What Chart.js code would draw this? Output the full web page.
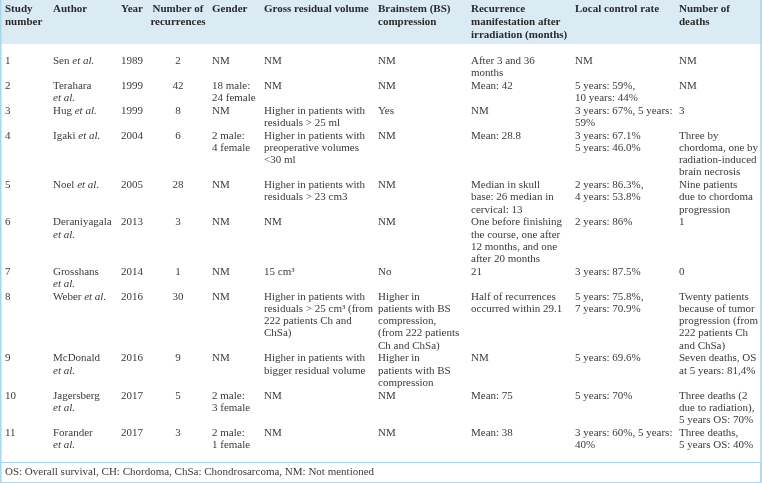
<!DOCTYPE html>
<html>
<head>
<meta charset="utf-8">
<script src="https://cdn.jsdelivr.net/npm/chart.js@4.4.1/dist/chart.umd.min.js"></script>
<style>
  html, body { margin: 0; padding: 0; background: #fff; }
  #wrap { width: 762px; height: 483px; }
</style>
</head>
<body>
<div id="wrap"><canvas id="table"></canvas></div>
<script>
// table content, one array per column
const headers = ['Study\nnumber', 'Author', 'Year', 'Number of\nrecurrences', 'Gender',
  'Gross residual volume', 'Brainstem (BS)\ncompression',
  'Recurrence\nmanifestation after\nirradiation (months)', 'Local control rate', 'Number of\ndeaths'];

const studyNo = ['1', '2', '3', '4', '5', '6', '7', '8', '9', '10', '11'];

const authors = ['Sen et al.', 'Terahara\net al.', 'Hug et al.', 'Igaki et al.', 'Noel et al.',
  'Deraniyagala\net al.', 'Grosshans\net al.', 'Weber et al.', 'McDonald\net al.',
  'Jagersberg\net al.', 'Forander\net al.'];

const years = ['1989', '1999', '1999', '2004', '2005', '2013', '2014', '2016', '2016', '2017', '2017'];

const recurrences = ['2', '42', '8', '6', '28', '3', '1', '30', '9', '5', '3'];

const gender = ['NM', '18 male:\n24 female', 'NM', '2 male:\n4 female', 'NM', 'NM', 'NM', 'NM', 'NM',
  '2 male:\n3 female', '2 male:\n1 female'];

const residualVolume = ['NM', 'NM', 'Higher in patients with\nresiduals > 25 ml',
  'Higher in patients with\npreoperative volumes\n<30 ml', 'Higher in patients with\nresiduals > 23 cm3',
  'NM', '15 cm\u00b3', 'Higher in patients with\nresiduals > 25 cm\u00b3 (from\n222 patients Ch and\nChSa)',
  'Higher in patients with\nbigger residual volume', 'NM', 'NM'];

const bsCompression = ['NM', 'NM', 'Yes', 'NM', 'NM', 'NM', 'No',
  'Higher in\npatients with BS\ncompression,\n(from 222 patients\nCh and ChSa)',
  'Higher in\npatients with BS\ncompression', 'NM', 'NM'];

const recurrenceTime = ['After 3 and 36\nmonths', 'Mean: 42', 'NM', 'Mean: 28.8',
  'Median in skull\nbase: 26 median in\ncervical: 13',
  'One before finishing\nthe course, one after\n12 months, and one\nafter 20 months', '21',
  'Half of recurrences\noccurred within 29.1', 'NM', 'Mean: 75', 'Mean: 38'];

const localControl = ['NM', '5 years: 59%,\n10 years: 44%', '3 years: 67%, 5 years:\n59%',
  '3 years: 67.1%\n5 years: 46.0%', '2 years: 86.3%,\n4 years: 53.8%', '2 years: 86%',
  '3 years: 87.5%', '5 years: 75.8%,\n7 years: 70.9%', '5 years: 69.6%', '5 years: 70%',
  '3 years: 60%, 5 years:\n40%'];

const deaths = ['NM', 'NM', '3', 'Three by\nchordoma, one by\nradiation-induced\nbrain necrosis',
  'Nine patients\ndue to chordoma\nprogression', '1', '0',
  'Twenty patients\nbecause of tumor\nprogression (from\n222 patients Ch\nand ChSa)',
  'Seven deaths, OS\nat 5 years: 81,4%', 'Three deaths (2\ndue to radiation),\n5 years OS: 70%',
  'Three deaths,\n5 years OS: 40%'];

const footnote = 'OS: Overall survival, CH: Chordoma, ChSa: Chondrosarcoma, NM: Not mentioned';

const columns = [studyNo, authors, years, recurrences, gender, residualVolume,
  bsCompression, recurrenceTime, localControl, deaths];

// layout
const W = 762, H = 483;
const COL_X = [5, 53, 121, 178, 212, 264, 378, 471, 575, 679];
const CENTERED = [false, false, false, true, false, false, false, false, false, false];
const HEAD_LINE = 12.6, HEAD_FIRST = 9.5, HEAD_BOTTOM = 44;
const LINE = 12.2, ROW_PAD = 0.6, BODY_FIRST = 61;
const FOOT_TOP = 462, FOOT_BOTTOM = 482;
const FONT = '11px "Liberation Serif", serif';
const FONT_BOLD = 'bold 11px "Liberation Serif", serif';
const FONT_ITALIC = 'italic 11px "Liberation Serif", serif';

const lineCount = s => s.split('\n').length;
const rowLines = studyNo.map((_, r) => Math.max(...columns.map(col => lineCount(col[r]))));

const rowFirst = [];
let yy = BODY_FIRST;
rowLines.forEach(n => { rowFirst.push(yy); yy += n * LINE + ROW_PAD; });

const headerCells = headers.map((t, c) => ({ x: COL_X[c], y: HEAD_FIRST, text: t, head: true, center: CENTERED[c] }));
const bodyCells = [];
columns.forEach((col, c) => col.forEach((t, r) => {
  bodyCells.push({ x: COL_X[c], y: rowFirst[r], text: t, head: false, center: CENTERED[c] });
}));
const footCells = [{ x: 5, y: (FOOT_TOP + FOOT_BOTTOM) / 2, text: footnote, head: false, center: false }];

function drawRich(ctx, text, x, y, center) {
  const parts = text.split(/(et al\.)/).filter(p => p.length);
  let total = 0;
  parts.forEach(p => { ctx.font = p === 'et al.' ? FONT_ITALIC : FONT; total += ctx.measureText(p).width; });
  let cx = center ? x - total / 2 : x;
  parts.forEach(p => {
    ctx.font = p === 'et al.' ? FONT_ITALIC : FONT;
    ctx.fillText(p, cx, y);
    cx += ctx.measureText(p).width;
  });
}

const tablePlugin = {
  id: 'tablePlugin',
  beforeDatasetsDraw(chart) {
    const { ctx, scales: { x, y } } = chart;
    ctx.save();
    ctx.fillStyle = '#dbebf4';
    ctx.fillRect(x.getPixelForValue(0), y.getPixelForValue(0), x.getPixelForValue(W) - x.getPixelForValue(0),
      y.getPixelForValue(HEAD_BOTTOM) - y.getPixelForValue(0));
    ctx.strokeStyle = '#a9d6e8';
    ctx.lineWidth = 1.5;
    ctx.beginPath();
    ctx.moveTo(x.getPixelForValue(0.75), y.getPixelForValue(0));
    ctx.lineTo(x.getPixelForValue(0.75), y.getPixelForValue(FOOT_BOTTOM));
    ctx.moveTo(x.getPixelForValue(W - 1), y.getPixelForValue(0));
    ctx.lineTo(x.getPixelForValue(W - 1), y.getPixelForValue(FOOT_BOTTOM));
    ctx.stroke();
    ctx.lineWidth = 1;
    ctx.strokeRect(x.getPixelForValue(0.5), y.getPixelForValue(FOOT_TOP) + 0.5,
      x.getPixelForValue(W - 1) - x.getPixelForValue(0.5), y.getPixelForValue(FOOT_BOTTOM) - y.getPixelForValue(FOOT_TOP));
    ctx.restore();
  },
  afterDatasetsDraw(chart) {
    const { ctx } = chart;
    ctx.save();
    ctx.textBaseline = 'middle';
    chart.data.datasets.forEach((ds, i) => {
      const meta = chart.getDatasetMeta(i);
      meta.data.forEach((el, j) => {
        const cell = ds.data[j];
        const lh = cell.head ? HEAD_LINE : LINE;
        cell.text.split('\n').forEach((line, k) => {
          const ly = el.y + k * lh;
          if (cell.head) {
            ctx.font = FONT_BOLD;
            ctx.fillStyle = '#2a2a2a';
            ctx.textAlign = cell.center ? 'center' : 'left';
            ctx.fillText(line, el.x, ly);
          } else {
            ctx.fillStyle = '#3a3a3a';
            ctx.textAlign = 'left';
            drawRich(ctx, line, el.x, ly, cell.center);
          }
        });
      });
    });
    ctx.restore();
  }
};

new Chart(document.getElementById('table'), {
  type: 'scatter',
  data: {
    datasets: [
      { label: 'header', data: headerCells, pointRadius: 0 },
      { label: 'body', data: bodyCells, pointRadius: 0 },
      { label: 'footer', data: footCells, pointRadius: 0 }
    ]
  },
  options: {
    responsive: true,
    maintainAspectRatio: false,
    animation: false,
    layout: { padding: 0 },
    plugins: { legend: { display: false }, tooltip: { enabled: false } },
    scales: {
      x: { type: 'linear', min: 0, max: W, display: false },
      y: { type: 'linear', min: 0, max: H, reverse: true, display: false }
    }
  },
  plugins: [tablePlugin]
});
</script>
</body>
</html>
